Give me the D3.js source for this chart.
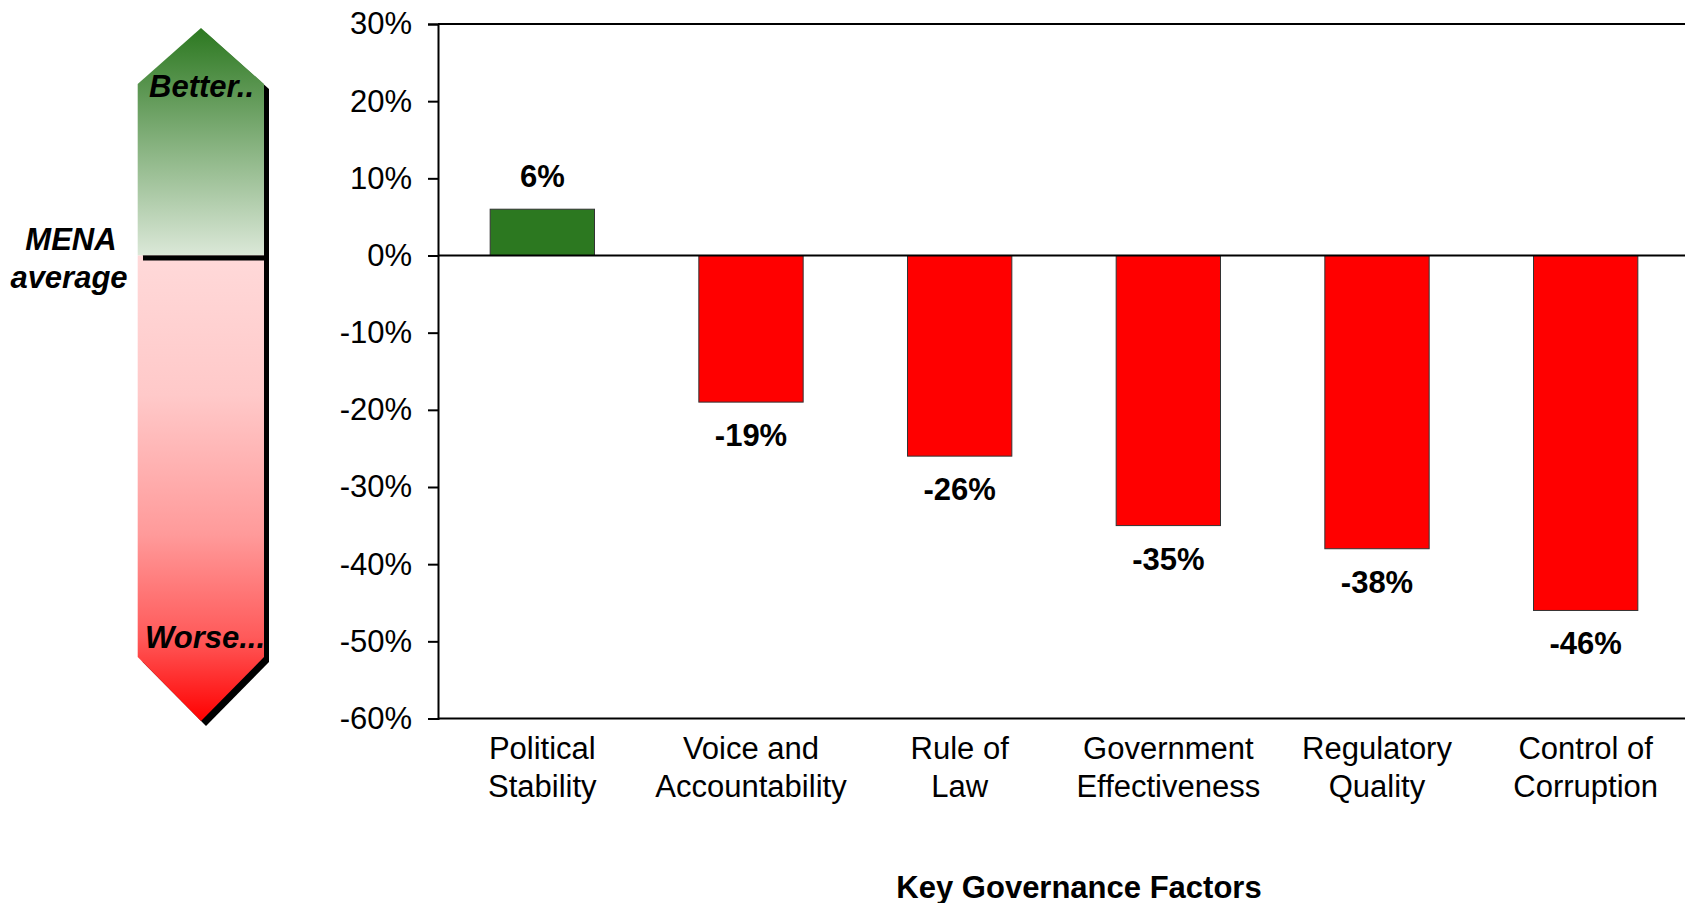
<!DOCTYPE html>
<html>
<head>
<meta charset="utf-8">
<script src="https://cdn.jsdelivr.net/npm/d3@7"></script>
<style>
  html, body { margin: 0; padding: 0; background: #fff; }
  svg { display: block; font-family: "Liberation Sans", Arial, sans-serif; }
</style>
</head>
<body>
<svg id="chart" width="1685" height="903"></svg>
<script>
// Governance factors vs. MENA average (difference in percent)
const categories = [
  ["Political", "Stability"],
  ["Voice and", "Accountability"],
  ["Rule of", "Law"],
  ["Government", "Effectiveness"],
  ["Regulatory", "Quality"],
  ["Control of", "Corruption"]
];
const values = [0.06, -0.19, -0.26, -0.35, -0.38, -0.46];
const valueLabels = ["6%", "-19%", "-26%", "-35%", "-38%", "-46%"];
const yTicks = [0.3, 0.2, 0.1, 0, -0.1, -0.2, -0.3, -0.4, -0.5, -0.6];
const axisTitle = "Key Governance Factors";
const scaleLabels = { better: "Better..", worse: "Worse...", mid: ["MENA", "average"] };

const svg = d3.select("#chart");
const FONT = 31;

// Plot area
const plotLeft = 438, plotRight = 1690, plotTop = 24, plotBottom = 718.5;

const keys = categories.map(c => c.join(" "));
const x = d3.scaleBand().domain(keys).range([plotLeft, plotRight])
  .paddingInner(0.5).paddingOuter(0.25);
const y = d3.scaleLinear().domain([-0.6, 0.3]).range([plotBottom, plotTop]);

// ---- Left-hand "better / worse" arrow scale ----
const defs = svg.append("defs");
const gGreen = defs.append("linearGradient").attr("id", "gGreen")
  .attr("x1", 0).attr("y1", 0).attr("x2", 0).attr("y2", 1);
gGreen.append("stop").attr("offset", "0%").attr("stop-color", "#2c7820");
gGreen.append("stop").attr("offset", "100%").attr("stop-color", "#dbe8d8");
const gRed = defs.append("linearGradient").attr("id", "gRed")
  .attr("x1", 0).attr("y1", 0).attr("x2", 0).attr("y2", 1);
[["0%", "#ffd9d9"], ["30%", "#ffc9c9"], ["60%", "#ff9a9a"], ["82%", "#ff5a5a"], ["100%", "#ff0000"]]
  .forEach(([o, c]) => gRed.append("stop").attr("offset", o).attr("stop-color", c));

const ax = { l: 137.7, r: 264, cx: 201, tipT: 28, shT: 84, mid: y(0), shB: 657, tipB: 721 };
const arrowPts = [[ax.cx, ax.tipT], [ax.r, ax.shT], [ax.r, ax.shB], [ax.cx, ax.tipB], [ax.l, ax.shB], [ax.l, ax.shT]];
const line = d3.line();

// drop shadow
svg.append("path").attr("d", line(arrowPts) + "Z")
  .attr("transform", "translate(5,5)").attr("fill", "#000");
// upper (better) half
svg.append("path")
  .attr("d", line([[ax.cx, ax.tipT], [ax.r, ax.shT], [ax.r, ax.mid], [ax.l, ax.mid], [ax.l, ax.shT]]) + "Z")
  .attr("fill", "url(#gGreen)");
// lower (worse) half
svg.append("path")
  .attr("d", line([[ax.l, ax.mid], [ax.r, ax.mid], [ax.r, ax.shB], [ax.cx, ax.tipB], [ax.l, ax.shB]]) + "Z")
  .attr("fill", "url(#gRed)");
// average marker
svg.append("rect").attr("x", 143).attr("y", ax.mid).attr("width", 126).attr("height", 5).attr("fill", "#000");

svg.append("text").attr("x", 149).attr("y", 97)
  .attr("font-size", FONT).attr("font-weight", "bold").attr("font-style", "italic")
  .text(scaleLabels.better);
svg.append("text").attr("x", 145).attr("y", 648)
  .attr("font-size", FONT).attr("font-weight", "bold").attr("font-style", "italic")
  .text(scaleLabels.worse);
svg.append("text").attr("x", 71).attr("y", 250).attr("text-anchor", "middle")
  .attr("font-size", FONT).attr("font-weight", "bold").attr("font-style", "italic")
  .text(scaleLabels.mid[0]);
svg.append("text").attr("x", 69).attr("y", 288).attr("text-anchor", "middle")
  .attr("font-size", FONT).attr("font-weight", "bold").attr("font-style", "italic")
  .text(scaleLabels.mid[1]);

// ---- Bars ----
svg.append("g").selectAll("rect").data(values).join("rect")
  .attr("x", (d, i) => x(keys[i]))
  .attr("width", x.bandwidth())
  .attr("y", d => y(Math.max(0, d)))
  .attr("height", d => Math.abs(y(d) - y(0)))
  .attr("fill", d => d >= 0 ? "#2c7820" : "#ff0000")
  .attr("stroke", "#333").attr("stroke-width", 1);

// value labels
svg.append("g").selectAll("text").data(values).join("text")
  .attr("x", (d, i) => x(keys[i]) + x.bandwidth() / 2)
  .attr("y", d => d >= 0 ? y(d) - 22 : y(d) + 44)
  .attr("text-anchor", "middle")
  .attr("font-size", FONT).attr("font-weight", "bold")
  .text((d, i) => valueLabels[i]);

// ---- Axes ----
const yAxis = d3.axisLeft(y).tickValues(yTicks)
  .tickFormat(d => Math.round(d * 100) + "%")
  .tickSize(10).tickPadding(16);
const gy = svg.append("g").attr("transform", `translate(${plotLeft},0)`).call(yAxis);
gy.select(".domain").attr("stroke", "#000").attr("stroke-width", 2);
gy.selectAll(".tick line").attr("stroke", "#000").attr("stroke-width", 2);
gy.selectAll(".tick text").attr("font-size", FONT).attr("fill", "#000")
  .attr("font-family", "'Liberation Sans', Arial, sans-serif");

// plot frame top and bottom edges, zero line
svg.append("line").attr("x1", plotLeft).attr("x2", 1685).attr("y1", plotTop).attr("y2", plotTop)
  .attr("stroke", "#000").attr("stroke-width", 2);
svg.append("line").attr("x1", plotLeft).attr("x2", 1685).attr("y1", plotBottom).attr("y2", plotBottom)
  .attr("stroke", "#000").attr("stroke-width", 2);
svg.append("line").attr("x1", plotLeft).attr("x2", 1685).attr("y1", y(0)).attr("y2", y(0))
  .attr("stroke", "#000").attr("stroke-width", 2);

// category labels
const cat = svg.append("g").selectAll("text").data(categories).join("text")
  .attr("text-anchor", "middle").attr("font-size", FONT);
cat.each(function (c, i) {
  const cx = x(keys[i]) + x.bandwidth() / 2;
  d3.select(this).selectAll("tspan").data(c).join("tspan")
    .attr("x", cx).attr("y", (t, j) => 759 + j * 37.5).text(t => t);
});

// axis title
svg.append("text").attr("x", 1079).attr("y", 898).attr("text-anchor", "middle")
  .attr("font-size", FONT).attr("font-weight", "bold").text(axisTitle);
</script>
</body>
</html>
